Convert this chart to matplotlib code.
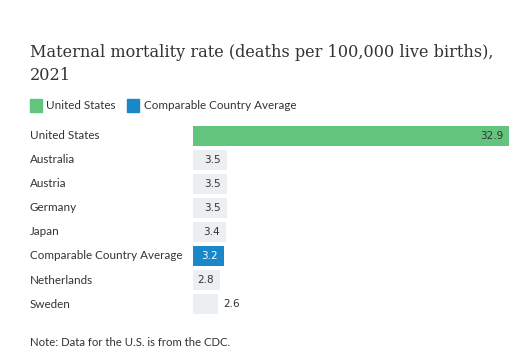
import matplotlib
matplotlib.use("Agg")
import matplotlib.pyplot as plt
from matplotlib.transforms import blended_transform_factory
from matplotlib.patches import Rectangle

countries = [
    "United States",
    "Australia",
    "Austria",
    "Germany",
    "Japan",
    "Comparable Country Average",
    "Netherlands",
    "Sweden",
]
rates = [32.9, 3.5, 3.5, 3.5, 3.4, 3.2, 2.8, 2.6]
kinds = ["us", "other", "other", "other", "other", "avg", "other", "other"]

GREEN = "#62c47d"
BLUE = "#1a87c9"
GREY = "#ebeff2"
TEXT = "#333333"
colors = {"us": GREEN, "avg": BLUE, "other": GREY}

W, H = 525, 350
fig = plt.figure(figsize=(W / 100, H / 100), dpi=100)


def px(x, y):
    # pixel coords (from top-left) -> figure fraction
    return x / W, 1 - y / H


# bar area
left, right = 193, 509
top, bottom = 123.7, 316.1
ax = fig.add_axes([left / W, 1 - bottom / H, (right - left) / W, (bottom - top) / H])
ax.set_xlim(0, max(rates))
ax.set_ylim(len(countries) - 0.5, -0.5)
ax.axis("off")

ypos = list(range(len(countries)))
ax.barh(ypos, rates, height=0.83, color=[colors[k] for k in kinds])

lab_font = "Lato"
val_font = "DejaVu Sans"
lab_size = 8.35

trans = blended_transform_factory(fig.transFigure, ax.transData)
for i, (name, val, kind) in enumerate(zip(countries, rates, kinds)):
    ax.text(30 / W, i, name, transform=trans, ha="left", va="center",
            fontsize=lab_size, family=lab_font, color=TEXT)
    if name == "Sweden":
        ax.annotate(f"{val}", (val, i), xytext=(3.6, 0), textcoords="offset points",
                    ha="left", va="center", fontsize=7.5, family=val_font, color=TEXT)
    else:
        ax.annotate(f"{val}", (val, i), xytext=(-4, 0), textcoords="offset points",
                    ha="right", va="center", fontsize=7.5, family=val_font,
                    color="white" if kind == "avg" else TEXT)

# title
fig.text(*px(30, 57), "Maternal mortality rate (deaths per 100,000 live births),",
         ha="left", va="baseline", fontsize=11.6, family="DejaVu Serif", color="#333333")
fig.text(*px(30, 80), "2021",
         ha="left", va="baseline", fontsize=11.6, family="DejaVu Serif", color="#333333")

# legend
fig.patches.append(Rectangle(px(30, 112), 12 / W, 13 / H, transform=fig.transFigure,
                             color=GREEN))
fig.text(*px(46, 105.5), "United States", ha="left", va="center",
         fontsize=lab_size, family=lab_font, color=TEXT)
fig.patches.append(Rectangle(px(127, 112), 12 / W, 13 / H, transform=fig.transFigure,
                             color=BLUE))
fig.text(*px(144, 105.5), "Comparable Country Average", ha="left", va="center",
         fontsize=lab_size, family=lab_font, color=TEXT)

# note
fig.text(*px(30, 342), "Note: Data for the U.S. is from the CDC.", ha="left",
         va="center", fontsize=8.2, family=lab_font, color=TEXT)

fig.savefig("out.png", dpi=100, facecolor="white")
